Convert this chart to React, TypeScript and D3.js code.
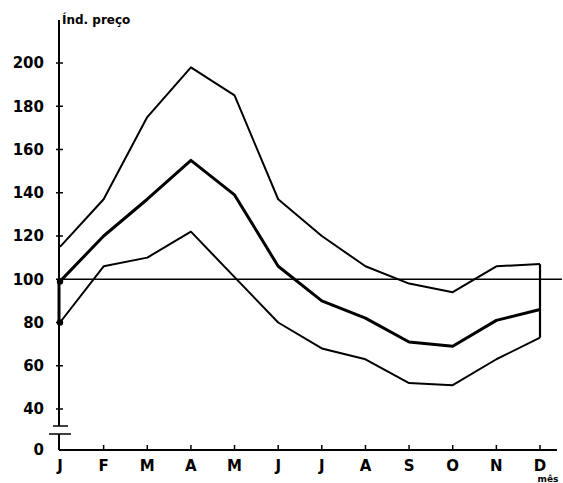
import React from "react";
import * as d3 from "d3";

const monthLabels = ["J", "F", "M", "A", "M", "J", "J", "A", "S", "O", "N", "D"];
const upperSeries = [115, 137, 175, 198, 185, 137, 120, 106, 98, 94, 106, 107];
const middleSeries = [99, 120, 137, 155, 139, 106, 90, 82, 71, 69, 81, 86];
const lowerSeries = [80, 106, 110, 122, 101, 80, 68, 63, 52, 51, 63, 73];
const yTicks = [0, 40, 60, 80, 100, 120, 140, 160, 180, 200];
const referenceValue = 100;

const W = 563;
const H = 483;

export default function App() {
  const x = d3
    .scalePoint<number>()
    .domain(monthLabels.map((_, i) => i))
    .range([60, 540]);
  const y = d3.scaleLinear().domain([0, 40, 200]).range([450, 409, 63]);

  const line = d3
    .line<number>()
    .x((_, i) => x(i) as number)
    .y((d) => y(d));

  const font = "'DejaVu Sans', 'Liberation Sans', Arial, sans-serif";
  const x0 = x(0) as number;
  const xEnd = x(11) as number;

  return (
    <svg
      width={W}
      height={H}
      style={{ position: "absolute", left: 0, top: 0, background: "#fff" }}
      fontFamily={font}
    >
      {/* y axis: top part and bottom part with break */}
      <line x1={x0 - 1} x2={x0 - 1} y1={20} y2={426} stroke="#000" strokeWidth={2} />
      <line x1={x0 - 1} x2={x0 - 1} y1={434} y2={450} stroke="#000" strokeWidth={2} />
      <line x1={x0 - 7} x2={x0 + 8} y1={426} y2={426} stroke="#000" strokeWidth={1.5} />
      <line x1={x0 - 11} x2={x0 + 11} y1={434} y2={434} stroke="#000" strokeWidth={1.5} />
      {/* x axis */}
      <line x1={x0 - 1} x2={557} y1={450} y2={450} stroke="#000" strokeWidth={2.2} />

      {/* y ticks and labels */}
      {yTicks.map((t) => (
        <g key={t}>
          {t !== 0 && (
            <line x1={x0 - 4} x2={x0 + 3} y1={y(t)} y2={y(t)} stroke="#000" strokeWidth={1.5} />
          )}
          <text
            x={44}
            y={y(t)}
            dy="0.36em"
            textAnchor="end"
            fontSize={15}
            fontWeight="bold"
            fill="#000"
          >
            {t}
          </text>
        </g>
      ))}

      {/* x ticks and labels */}
      {monthLabels.map((m, i) => (
        <g key={i}>
          {i > 0 && (
            <line
              x1={x(i) as number}
              x2={x(i) as number}
              y1={450}
              y2={445}
              stroke="#000"
              strokeWidth={1.5}
            />
          )}
          <text
            x={x(i) as number}
            y={466}
            dy="0.36em"
            textAnchor="middle"
            fontSize={15}
            fontWeight="bold"
            fill="#000"
          >
            {m}
          </text>
        </g>
      ))}

      {/* axis titles */}
      <text x={x0 + 2} y={24} fontSize={12} fontWeight="bold" fill="#000">
        Índ. preço
      </text>
      <text x={548} y={482} textAnchor="middle" fontSize={9} fontWeight="bold" fill="#000">
        mês
      </text>

      {/* reference line at 100 */}
      <line
        x1={x0}
        x2={562}
        y1={y(referenceValue)}
        y2={y(referenceValue)}
        stroke="#000"
        strokeWidth={1.5}
      />

      {/* vertical range connectors */}
      <line
        x1={x0 - 1}
        x2={x0 - 1}
        y1={y(lowerSeries[0])}
        y2={y(middleSeries[0])}
        stroke="#000"
        strokeWidth={3}
      />
      <line
        x1={xEnd}
        x2={xEnd}
        y1={y(lowerSeries[11])}
        y2={y(upperSeries[11])}
        stroke="#000"
        strokeWidth={2.2}
      />

      {/* series */}
      <path d={line(upperSeries) as string} fill="none" stroke="#000" strokeWidth={2} strokeLinejoin="round" />
      <path d={line(middleSeries) as string} fill="none" stroke="#000" strokeWidth={3} strokeLinejoin="round" />
      <path d={line(lowerSeries) as string} fill="none" stroke="#000" strokeWidth={2} strokeLinejoin="round" />
      <circle cx={x0} cy={y(middleSeries[0])} r={3.2} fill="#000" />
      <circle cx={x0} cy={y(lowerSeries[0])} r={3.2} fill="#000" />
    </svg>
  );
}
